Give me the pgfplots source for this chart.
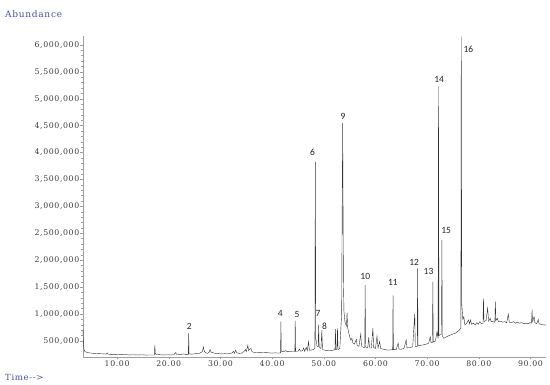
\documentclass[border=0pt]{standalone}
\usepackage{pgfplots}
\pgfplotsset{compat=1.18}
\usepackage{fontspec}
\setmainfont{DejaVu Serif}
\newfontfamily\tickfont{DejaVu Serif}[LetterSpace=8]
\newfontfamily\lblfont{Carlito}
\definecolor{hpblue}{RGB}{75,75,175}
\definecolor{tickgray}{RGB}{60,60,60}

\begin{document}
\begin{tikzpicture}[x=1pt,y=1pt]
\path[use as bounding box] (-83,-28) rectangle (467,357);
\begin{axis}[
  at={(0,0)}, anchor=south west,
  scale only axis, width=463pt, height=321pt,
  xmin=3.4, xmax=93.0, ymin=0.2025, ymax=6.167,
  axis lines*=left,
  axis line style={gray!75, line width=0.6pt},
  tick style={gray!75, line width=0.5pt},
  tick align=outside,
  major tick length=2.5pt, minor tick length=1.5pt,
  xtick={10,20,...,90},
  xticklabels={10.00,20.00,30.00,40.00,50.00,60.00,70.00,80.00,90.00},
  minor x tick num=4,
  ytick={0.5,1,1.5,2,2.5,3,3.5,4,4.5,5,5.5,6},
  yticklabels={{500,000},{1,000,000},{1,500,000},{2,000,000},{2,500,000},{3,000,000},{3,500,000},{4,000,000},{4,500,000},{5,000,000},{5,500,000},{6,000,000}},
  minor y tick num=4,
  ticklabel style={font=\tickfont\fontsize{7.8}{9}\selectfont, text=tickgray},
  yticklabel style={inner sep=1pt},
  xticklabel style={inner sep=1.5pt},
  clip=false,
]
\addplot[black!80, line width=0.4pt, sharp plot] coordinates {
(3.40,0.72) (3.48,0.45) (3.60,0.34) (3.80,0.30) (4.50,0.28) (5.50,0.27) (6.50,0.265) (7.50,0.26)
(7.90,0.255) (8.06,0.28) (8.25,0.255) (9.00,0.25) (10.0,0.25) (10.8,0.245) (11.5,0.25) (12.3,0.24)
(13.0,0.245) (14.0,0.24) (14.8,0.245) (15.6,0.238) (16.4,0.24) (17.2,0.24) (17.3,0.42) (17.4,0.26)
(17.7,0.25) (18.3,0.245) (19.0,0.24) (19.7,0.245) (20.4,0.24) (21.0,0.245) (21.3,0.285) (21.55,0.25)
(22.2,0.245) (22.8,0.26) (23.2,0.25) (23.78,0.25) (23.85,0.64) (23.92,0.26) (24.4,0.255) (24.9,0.26)
(25.3,0.27) (25.7,0.26) (26.1,0.28) (26.5,0.30) (26.7,0.39) (26.9,0.30) (27.2,0.28) (27.5,0.27)
(27.8,0.29) (28.0,0.34) (28.2,0.29) (28.6,0.28) (29.1,0.27) (29.6,0.265) (30.2,0.26) (30.8,0.265)
(31.4,0.26) (31.9,0.27) (32.3,0.28) (32.5,0.31) (32.7,0.27) (32.95,0.33) (33.15,0.28) (33.6,0.27)
(34.2,0.275) (34.6,0.31) (34.85,0.34) (35.0,0.30) (35.3,0.42) (35.45,0.32) (35.7,0.35) (35.9,0.36)
(36.1,0.30) (36.5,0.29) (37.0,0.285) (37.6,0.29) (38.2,0.28) (38.8,0.285) (39.4,0.28) (40.0,0.275)
(40.6,0.28) (41.2,0.275) (41.63,0.28) (41.7,0.86) (41.77,0.31) (42.2,0.30) (42.6,0.32) (42.9,0.30)
(43.3,0.31) (43.8,0.30) (44.4,0.30) (44.47,0.88) (44.54,0.31) (45.0,0.31) (45.3,0.35) (45.5,0.31)
(45.9,0.32) (46.1,0.37) (46.3,0.31) (46.6,0.38) (46.8,0.32) (47.06,0.49) (47.2,0.33) (47.6,0.33)
(47.9,0.34) (48.28,0.36) (48.36,3.83) (48.45,0.55) (48.7,0.40) (48.92,0.40) (49.0,0.80) (49.1,0.39)
(49.45,0.36) (49.62,0.70) (49.75,0.34) (50.2,0.33) (50.6,0.32) (51.0,0.33) (51.4,0.32) (51.8,0.33)
(52.15,0.34) (52.25,0.72) (52.35,0.34) (52.55,0.35) (52.65,0.74) (52.75,0.34) (53.1,0.36) (53.45,1.0)
(53.56,3.0) (53.65,4.55) (53.72,3.1) (53.8,1.6) (53.9,1.05) (54.1,0.85) (54.38,0.78) (54.5,1.02)
(54.62,0.75) (54.9,0.62) (55.2,0.52) (55.45,0.55) (55.6,0.47) (55.9,0.44) (56.3,0.53) (56.45,0.42)
(56.8,0.40) (57.15,0.63) (57.3,0.40) (57.7,0.38) (57.93,0.38) (58.0,1.54) (58.08,0.39) (58.5,0.37) (58.7,0.57)
(58.85,0.37) (59.2,0.37) (59.5,0.74) (59.65,0.38) (60.0,0.36) (60.3,0.59) (60.5,0.37) (60.8,0.49)
(61.0,0.36) (61.4,0.35) (61.9,0.34) (62.4,0.33) (62.9,0.335) (63.33,0.34) (63.4,1.35) (63.47,0.34)
(64.0,0.34) (64.4,0.46) (64.55,0.35) (65.1,0.35) (65.5,0.36) (65.95,0.52) (66.1,0.37) (66.7,0.38)
(67.2,0.39) (67.6,1.01) (67.7,0.40) (68.08,0.40) (68.15,1.85) (68.23,0.41) (68.8,0.42) (69.3,0.43)
(69.8,0.44) (70.3,0.46) (70.6,0.58) (70.75,0.47) (71.03,0.47) (71.1,1.60) (71.18,0.48) (71.6,0.50) (71.9,0.67)
(72.12,0.55) (72.2,5.23) (72.28,0.60) (72.55,0.62) (72.78,0.62) (72.85,2.38) (72.93,0.60) (73.2,0.55) (73.6,0.57)
(74.0,0.59) (74.5,0.61) (75.0,0.63) (75.4,0.64) (75.8,0.67) (76.2,0.70) (76.52,0.74) (76.6,6.15)
(76.7,1.20) (76.9,0.90) (77.1,0.95) (77.3,0.80) (77.6,0.82) (78.0,0.89) (78.2,0.82) (78.4,0.89)
(78.6,0.81) (79.0,0.83) (79.3,0.80) (79.6,0.84) (79.9,0.81) (80.2,0.86) (80.5,0.82) (80.8,0.82)
(80.9,1.29) (81.0,0.86) (81.4,0.88) (81.7,1.11) (81.9,0.87) (82.2,0.92) (82.4,0.86) (82.7,0.86)
(83.1,0.85) (83.2,1.23) (83.3,0.88) (83.6,0.92) (83.8,0.86) (84.2,0.87) (84.6,0.85) (85.0,0.86)
(85.4,0.84) (85.7,1.00) (85.9,0.85) (86.3,0.84) (86.7,0.86) (87.1,0.83) (87.5,0.85) (87.9,0.83)
(88.3,0.84) (88.7,0.82) (89.1,0.83) (89.5,0.82) (89.9,0.84) (90.2,0.83) (90.3,1.08) (90.4,0.86)
(90.7,0.95) (90.85,0.84) (91.2,0.82) (91.5,0.90) (91.65,0.82) (92.0,0.81) (92.4,0.80) (92.8,0.80)
(93.0,0.79)
};
\begin{scope}[every node/.style={font=\lblfont\fontsize{9.5}{11}\selectfont, inner sep=0pt, text=black!85}]
\node at (axis cs:23.98,0.776) {2};
\node at (axis cs:41.59,1.014) {4};
\node at (axis cs:44.82,1.00) {5};
\node at (axis cs:47.83,4.006) {6};
\node at (axis cs:48.88,1.014) {7};
\node at (axis cs:50.15,0.766) {8};
\node at (axis cs:53.71,4.68) {9};
\node at (axis cs:58.03,1.695) {10};
\node at (axis cs:63.38,1.583) {11};
\node at (axis cs:67.5,1.962) {12};
\node at (axis cs:70.27,1.80) {13};
\node at (axis cs:72.34,5.368) {14};
\node at (axis cs:73.69,2.549) {15};
\node at (axis cs:77.99,5.925) {16};
\end{scope}
\end{axis}
\node[anchor=west, inner sep=0pt, text=hpblue, font=\tickfont\fontsize{9}{10}\selectfont] at (-78,343) {Abundance};
\node[anchor=west, inner sep=0pt, text=hpblue, font=\tickfont\fontsize{8.5}{10}\selectfont] at (-78,-20) {Time{-}{-}>};
\end{tikzpicture}
\end{document}
